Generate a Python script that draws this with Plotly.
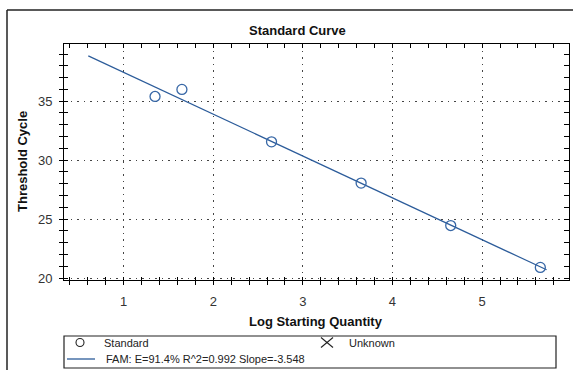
import plotly.graph_objects as go

# ---------------- data ----------------
log_qty = [1.35, 1.65, 2.65, 3.65, 4.65, 5.65]
ct_values = [35.4, 36.0, 31.55, 28.05, 24.45, 20.9]
fit_slope = -3.548
fit_intercept = 40.99
fit_x = [0.605, 5.72]
fit_y = [fit_intercept + fit_slope * v for v in fit_x]

x_range = [0.334, 5.97]
y_range = [19.83, 39.85]

title_text = "Standard Curve"
x_title = "Log Starting Quantity"
y_title = "Threshold Cycle"
legend_std = "Standard"
legend_unk = "Unknown"
legend_fit = "FAM: E=91.4% R^2=0.992 Slope=-3.548"

# ---------------- layout helpers ----------------
W, H = 573, 370
L, R, T, B = 64, 569, 44, 280


def px(x):
    return (x - L) / (R - L)


def py(y):
    return (B - y) / (B - T)


FONT = "Liberation Sans, Arial, sans-serif"
LINE_BLUE = "#2c5c9a"
MARK_BLUE = "#3767a6"

fig = go.Figure()
fig.add_trace(go.Scatter(x=fit_x, y=fit_y, mode="lines",
                         line=dict(color=LINE_BLUE, width=1.2),
                         hoverinfo="skip", showlegend=False))
fig.add_trace(go.Scatter(x=log_qty, y=ct_values, mode="markers",
                         marker=dict(symbol="circle-open", size=10, color=MARK_BLUE,
                                     line=dict(width=1.3, color=MARK_BLUE)),
                         showlegend=False))
# dummy traces to register the overlay axes (top/right inside ticks, bottom/left inside ticks)
fig.add_trace(go.Scatter(x=[None], y=[None], xaxis="x2", yaxis="y2", showlegend=False))
fig.add_trace(go.Scatter(x=[None], y=[None], xaxis="x3", yaxis="y3", showlegend=False))

tickfont = dict(family=FONT, size=13, color="#333333")
grid_common = dict(showgrid=True, gridcolor="#444444", griddash="1.5px,5px", gridwidth=1)

xcommon = dict(range=x_range, tick0=0, dtick=1, zeroline=False, tickcolor="black")
ycommon = dict(range=y_range, tick0=0, dtick=5, zeroline=False, tickcolor="black")

fig.update_layout(
    width=W, height=H,
    margin=dict(l=L, r=W - R, t=T, b=H - B),
    paper_bgcolor="white", plot_bgcolor="white",
    showlegend=False,
    xaxis=dict(**xcommon, **grid_common, ticks="outside", ticklen=4,
               minor=dict(dtick=0.2, tick0=0, ticks="outside", ticklen=4, tickcolor="black", showgrid=False),
               showline=True, linecolor="black", linewidth=1,
               tickfont=tickfont, ticklabelstandoff=5),
    xaxis2=dict(**xcommon, overlaying="x", side="top", anchor="y", ticks="inside", ticklen=4,
                minor=dict(dtick=0.2, tick0=0, ticks="inside", ticklen=4, tickcolor="black", showgrid=False),
                showticklabels=False, showgrid=False, showline=True, linecolor="black", linewidth=1),
    xaxis3=dict(**xcommon, overlaying="x", side="bottom", anchor="y", ticks="inside", ticklen=3,
                minor=dict(dtick=0.2, tick0=0, ticks="inside", ticklen=3, tickcolor="black", showgrid=False),
                showticklabels=False, showgrid=False, showline=False),
    yaxis=dict(**ycommon, **grid_common, ticks="outside", ticklen=4,
               minor=dict(dtick=1, tick0=0, ticks="outside", ticklen=4, tickcolor="black", showgrid=False),
               showline=True, linecolor="black", linewidth=1,
               tickfont=tickfont, ticklabelstandoff=4),
    yaxis2=dict(**ycommon, overlaying="y", side="right", anchor="x", ticks="inside", ticklen=5,
                minor=dict(dtick=1, tick0=0, ticks="inside", ticklen=5, tickcolor="black", showgrid=False),
                showticklabels=False, showgrid=False, showline=True, linecolor="black", linewidth=1),
    yaxis3=dict(**ycommon, overlaying="y", side="left", anchor="x", ticks="inside", ticklen=4,
                minor=dict(dtick=1, tick0=0, ticks="inside", ticklen=4, tickcolor="black", showgrid=False),
                showticklabels=False, showgrid=False, showline=False),
)

shapes = []
# outer frame (left and top edges visible)
shapes.append(dict(type="line", xref="paper", yref="paper", x0=px(7), x1=px(7), y0=py(10), y1=py(372),
                   line=dict(color="#222222", width=1.5)))
shapes.append(dict(type="line", xref="paper", yref="paper", x0=px(7), x1=px(575), y0=py(10), y1=py(10),
                   line=dict(color="#222222", width=1.5)))
# legend box
shapes.append(dict(type="rect", xref="paper", yref="paper", x0=px(64), x1=px(556), y0=py(336), y1=py(368),
                   line=dict(color="#222222", width=1.2), fillcolor="rgba(0,0,0,0)"))
# legend circle marker
shapes.append(dict(type="circle", xref="paper", yref="paper", xsizemode="pixel", ysizemode="pixel",
                   xanchor=px(80), yanchor=py(342.5), x0=-4, x1=4, y0=-4, y1=4,
                   line=dict(color="#222222", width=1.1)))
# legend X marker (two crossing diagonals)
for sgn in (1, -1):
    shapes.append(dict(type="line", xref="paper", yref="paper", xsizemode="pixel", ysizemode="pixel",
                       xanchor=px(327), yanchor=py(342.5), x0=-6, x1=6, y0=-5 * sgn, y1=5 * sgn,
                       line=dict(color="#222222", width=1.1)))
# legend fit line sample
shapes.append(dict(type="line", xref="paper", yref="paper", x0=px(67), x1=px(95), y0=py(359), y1=py(359),
                   line=dict(color=LINE_BLUE, width=1.3)))
fig.update_layout(shapes=shapes)

ann = []
ann.append(dict(text=f"<b>{title_text}</b>", x=px(297), y=py(31), xref="paper", yref="paper",
                xanchor="center", yanchor="middle", showarrow=False,
                font=dict(family=FONT, size=13, color="#111111")))
ann.append(dict(text=f"<b>{x_title}</b>", x=px(316), y=py(321), xref="paper", yref="paper",
                xanchor="center", yanchor="middle", showarrow=False,
                font=dict(family=FONT, size=13, color="#111111")))
ann.append(dict(text=f"<b>{y_title}</b>", x=px(22), y=py(162), xref="paper", yref="paper",
                xanchor="center", yanchor="middle", showarrow=False, textangle=-90,
                font=dict(family=FONT, size=13, color="#111111")))
legfont = dict(family=FONT, size=11, color="#222222")
ann.append(dict(text=legend_std, x=px(102), y=py(342.5), xref="paper", yref="paper",
                xanchor="left", yanchor="middle", showarrow=False, font=legfont))
ann.append(dict(text=legend_unk, x=px(347), y=py(342.5), xref="paper", yref="paper",
                xanchor="left", yanchor="middle", showarrow=False, font=legfont))
ann.append(dict(text=legend_fit, x=px(104), y=py(359), xref="paper", yref="paper",
                xanchor="left", yanchor="middle", showarrow=False, font=legfont))
fig.update_layout(annotations=ann)

fig.write_html("out.html")
